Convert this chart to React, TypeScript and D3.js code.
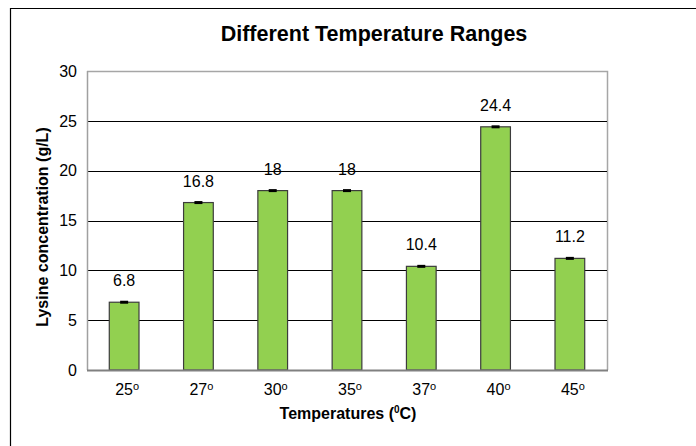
import React, { useEffect, useRef } from 'react';
import * as d3 from 'd3';

// Chart data
const TEMPERATURES = ['25', '27', '30', '35', '37', '40', '45'];
const LYSINE = [6.8, 16.8, 18, 18, 10.4, 24.4, 11.2];
const ERRORS = [0.1, 0.1, 0.1, 0.1, 0.1, 0.1, 0.1];
const Y_TICKS = [0, 5, 10, 15, 20, 25, 30];

const WIDTH = 696;
const HEIGHT = 446;
const FONT = '"Liberation Sans", Arial, sans-serif';

const App: React.FC = () => {
  const svgRef = useRef<SVGSVGElement>(null);

  useEffect(() => {
    document.body.style.margin = '0';
    if (!svgRef.current) return;

    const svg = d3.select(svgRef.current);
    svg.selectAll('*').remove();

    const plot = { left: 87, right: 607, top: 71, bottom: 370 };

    const x = d3
      .scaleBand<string>()
      .domain(TEMPERATURES)
      .range([plot.left, plot.right])
      .paddingInner(0.6)
      .paddingOuter(0.3);

    const y = d3.scaleLinear().domain([0, 30]).range([plot.bottom, plot.top]);

    // Outer frame (left and top edges only)
    svg.append('path')
      .attr('d', `M10.5,${HEIGHT} L10.5,8.5 L${WIDTH},8.5`)
      .attr('fill', 'none')
      .attr('stroke', '#000')
      .attr('stroke-width', 1.2);

    // Title
    svg.append('text')
      .attr('x', 374)
      .attr('y', 41)
      .attr('text-anchor', 'middle')
      .attr('font-family', FONT)
      .attr('font-size', '21.5px')
      .attr('font-weight', 'bold')
      .attr('fill', '#000')
      .text('Different Temperature Ranges');

    // Plot border (top and right, gray)
    svg.append('path')
      .attr('d', `M${plot.left},${plot.top + 0.5} L${plot.right + 0.5},${plot.top + 0.5} L${plot.right + 0.5},${plot.bottom}`)
      .attr('fill', 'none')
      .attr('stroke', '#a6a6a6')
      .attr('stroke-width', 1.5);

    // Gridlines
    svg.append('g')
      .selectAll('line')
      .data(Y_TICKS.filter((t) => t > 0 && t < 30))
      .enter()
      .append('line')
      .attr('x1', plot.left)
      .attr('x2', plot.right)
      .attr('y1', (d) => Math.round(y(d)) + 0.5)
      .attr('y2', (d) => Math.round(y(d)) + 0.5)
      .attr('stroke', '#000')
      .attr('stroke-width', 1);

    // Y tick labels
    svg.append('g')
      .selectAll('text')
      .data(Y_TICKS)
      .enter()
      .append('text')
      .attr('x', 77)
      .attr('y', (d) => y(d))
      .attr('dy', '0.36em')
      .attr('text-anchor', 'end')
      .attr('font-family', FONT)
      .attr('font-size', '16px')
      .attr('fill', '#000')
      .text((d) => d);

    // Bars
    svg.append('g')
      .selectAll('rect')
      .data(LYSINE)
      .enter()
      .append('rect')
      .attr('x', (_, i) => x(TEMPERATURES[i])!)
      .attr('y', (d) => y(d))
      .attr('width', x.bandwidth())
      .attr('height', (d) => y(0) - y(d))
      .attr('fill', '#92d050')
      .attr('stroke', '#3c3c3c')
      .attr('stroke-width', 1.2);

    // Error bars
    const errG = svg.append('g');
    LYSINE.forEach((v, i) => {
      const cx = x(TEMPERATURES[i])! + x.bandwidth() / 2;
      const top = y(v + ERRORS[i]);
      const bot = y(v - ERRORS[i]);
      errG.append('rect')
        .attr('x', cx - 4)
        .attr('y', top - 0.5)
        .attr('width', 8)
        .attr('height', bot - top + 1)
        .attr('fill', '#000');
    });

    // Value labels
    svg.append('g')
      .selectAll('text')
      .data(LYSINE)
      .enter()
      .append('text')
      .attr('x', (_, i) => x(TEMPERATURES[i])! + x.bandwidth() / 2)
      .attr('y', (d) => y(d) - 16)
      .attr('text-anchor', 'middle')
      .attr('font-family', FONT)
      .attr('font-size', '16px')
      .attr('fill', '#000')
      .text((d) => d);

    // Axes lines
    svg.append('line')
      .attr('x1', plot.left + 0.5)
      .attr('x2', plot.left + 0.5)
      .attr('y1', plot.top)
      .attr('y2', plot.bottom)
      .attr('stroke', '#a0a0a0')
      .attr('stroke-width', 1.5);

    svg.append('line')
      .attr('x1', plot.left)
      .attr('x2', plot.right + 1)
      .attr('y1', plot.bottom + 0.5)
      .attr('y2', plot.bottom + 0.5)
      .attr('stroke', '#808080')
      .attr('stroke-width', 2);

    // X tick labels with superscript degree
    const xLabels = svg.append('g')
      .selectAll('text')
      .data(TEMPERATURES)
      .enter()
      .append('text')
      .attr('x', (d) => x(d)! + x.bandwidth() / 2 + 3)
      .attr('y', 395)
      .attr('text-anchor', 'middle')
      .attr('font-family', FONT)
      .attr('font-size', '16px')
      .attr('fill', '#000');
    xLabels.append('tspan').text((d) => d);
    xLabels.append('tspan')
      .attr('font-size', '11px')
      .attr('dy', -5)
      .text('o');

    // X axis title
    const xTitle = svg.append('text')
      .attr('x', 348)
      .attr('y', 419)
      .attr('text-anchor', 'middle')
      .attr('font-family', FONT)
      .attr('font-size', '16px')
      .attr('font-weight', 'bold')
      .attr('fill', '#000');
    xTitle.append('tspan').text('Temperatures (');
    xTitle.append('tspan').attr('font-size', '10px').attr('dy', -6).text('0');
    xTitle.append('tspan').attr('dy', 6).text('C)');

    // Y axis title
    svg.append('text')
      .attr('transform', `translate(48,227) rotate(-90)`)
      .attr('text-anchor', 'middle')
      .attr('font-family', FONT)
      .attr('font-size', '16px')
      .attr('font-weight', 'bold')
      .attr('fill', '#000')
      .text('Lysine concentration (g/L)');
  }, []);

  return (
    <svg
      ref={svgRef}
      width={WIDTH}
      height={HEIGHT}
      style={{ display: 'block', background: '#fff' }}
    />
  );
};

export default App;
